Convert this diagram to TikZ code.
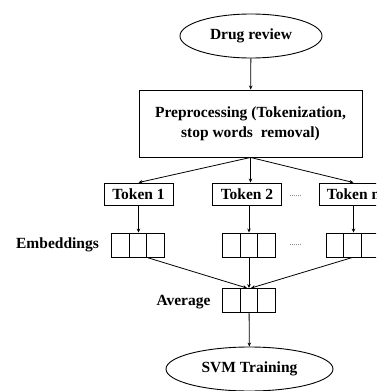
\documentclass[tikz,border=0pt]{standalone}
\usepackage{fontspec}
\setmainfont{Liberation Serif}
\usetikzlibrary{arrows.meta,shapes.geometric,shapes.multipart}

\begin{document}
\begin{tikzpicture}[x=1pt,y=1pt,
  endnode/.style={draw,ellipse,line width=0.9pt,inner sep=0pt,font=\fontsize{15.5}{20}\selectfont\bfseries},
  stepbox/.style={draw,rectangle,line width=0.9pt,inner sep=0pt,align=center,font=\fontsize{15.5}{20}\selectfont\bfseries},
  cellbox/.style={draw,rectangle split,rectangle split horizontal,rectangle split parts=3,line width=0.9pt,
    inner xsep=0pt,inner ysep=0pt,rectangle split empty part width=12.3pt,
    rectangle split empty part height=12pt,rectangle split empty part depth=12pt},
  sidelabel/.style={font=\fontsize{15.5}{20}\selectfont\bfseries},
  dotsgap/.style={font=\fontsize{8}{9}\selectfont,black!75},
  flow/.style={-{Stealth[length=4pt,width=3.5pt]},line width=0.8pt}]
  % Frame (picture is cut at the right edge)
  \clip (0,0) rectangle (376,-391);
  \fill[white] (0,0) rectangle (376,-391);
  % Input and preprocessing
  \node[endnode,minimum width=142pt,minimum height=44pt] (review) at (251,-36) {Drug review};
  \node[stepbox,minimum width=223pt,minimum height=67pt] (prep) at (250.5,-123.5) {Preprocessing (Tokenization,\\stop words\ \ removal)};
  % Tokens
  \node[stepbox,minimum width=69pt,minimum height=22pt] (tok1) at (138.5,-194) {Token 1};
  \node[stepbox,minimum width=69pt,minimum height=22pt] (tok2) at (247,-194) {Token 2};
  \node[stepbox,minimum width=69pt,minimum height=22pt] (tokn) at (353.5,-194) {Token n};
  \node[dotsgap] (dots1) at (295.5,-196) {......};
  % Embeddings
  \node[sidelabel] (emblabel) at (57.5,-245) {Embeddings};
  \node[cellbox] (emb1) at (138,-245) {};
  \node[cellbox] (emb2) at (249,-245) {};
  \node[cellbox] (emb3) at (352.5,-245) {};
  \node[dotsgap] (dots2) at (295.5,-245) {......};
  % Average and classifier
  \node[sidelabel] (avglabel) at (183.5,-302) {Average};
  \node[cellbox] (avg) at (249,-300.5) {};
  \node[endnode,minimum width=167pt,minimum height=44pt] (svm) at (249.5,-369) {SVM Training};
  % Connectors
  \draw[flow] (review) -- (prep);
  \draw[flow] (prep.south) -- (tok1.north);
  \draw[flow] (prep.south) -- (prep.south |- tok2.north);
  \draw[flow] (prep.south) -- (tokn.north);
  \draw[flow] (tok1) -- (tok1.south |- emb1.north);
  \draw[flow] (tok2.south -| emb2.north) -- (emb2.north);
  \draw[flow] (tokn) -- (tokn.south |- emb3.north);
  \draw[flow] (emb1.two split south) -- ([xshift=-2pt]avg.north);
  \draw[flow] (emb2) -- (avg);
  \draw[flow] (emb3.south) -- ([xshift=2pt]avg.north);
  \draw[flow] (avg) -- (svm);
\end{tikzpicture}
\end{document}
